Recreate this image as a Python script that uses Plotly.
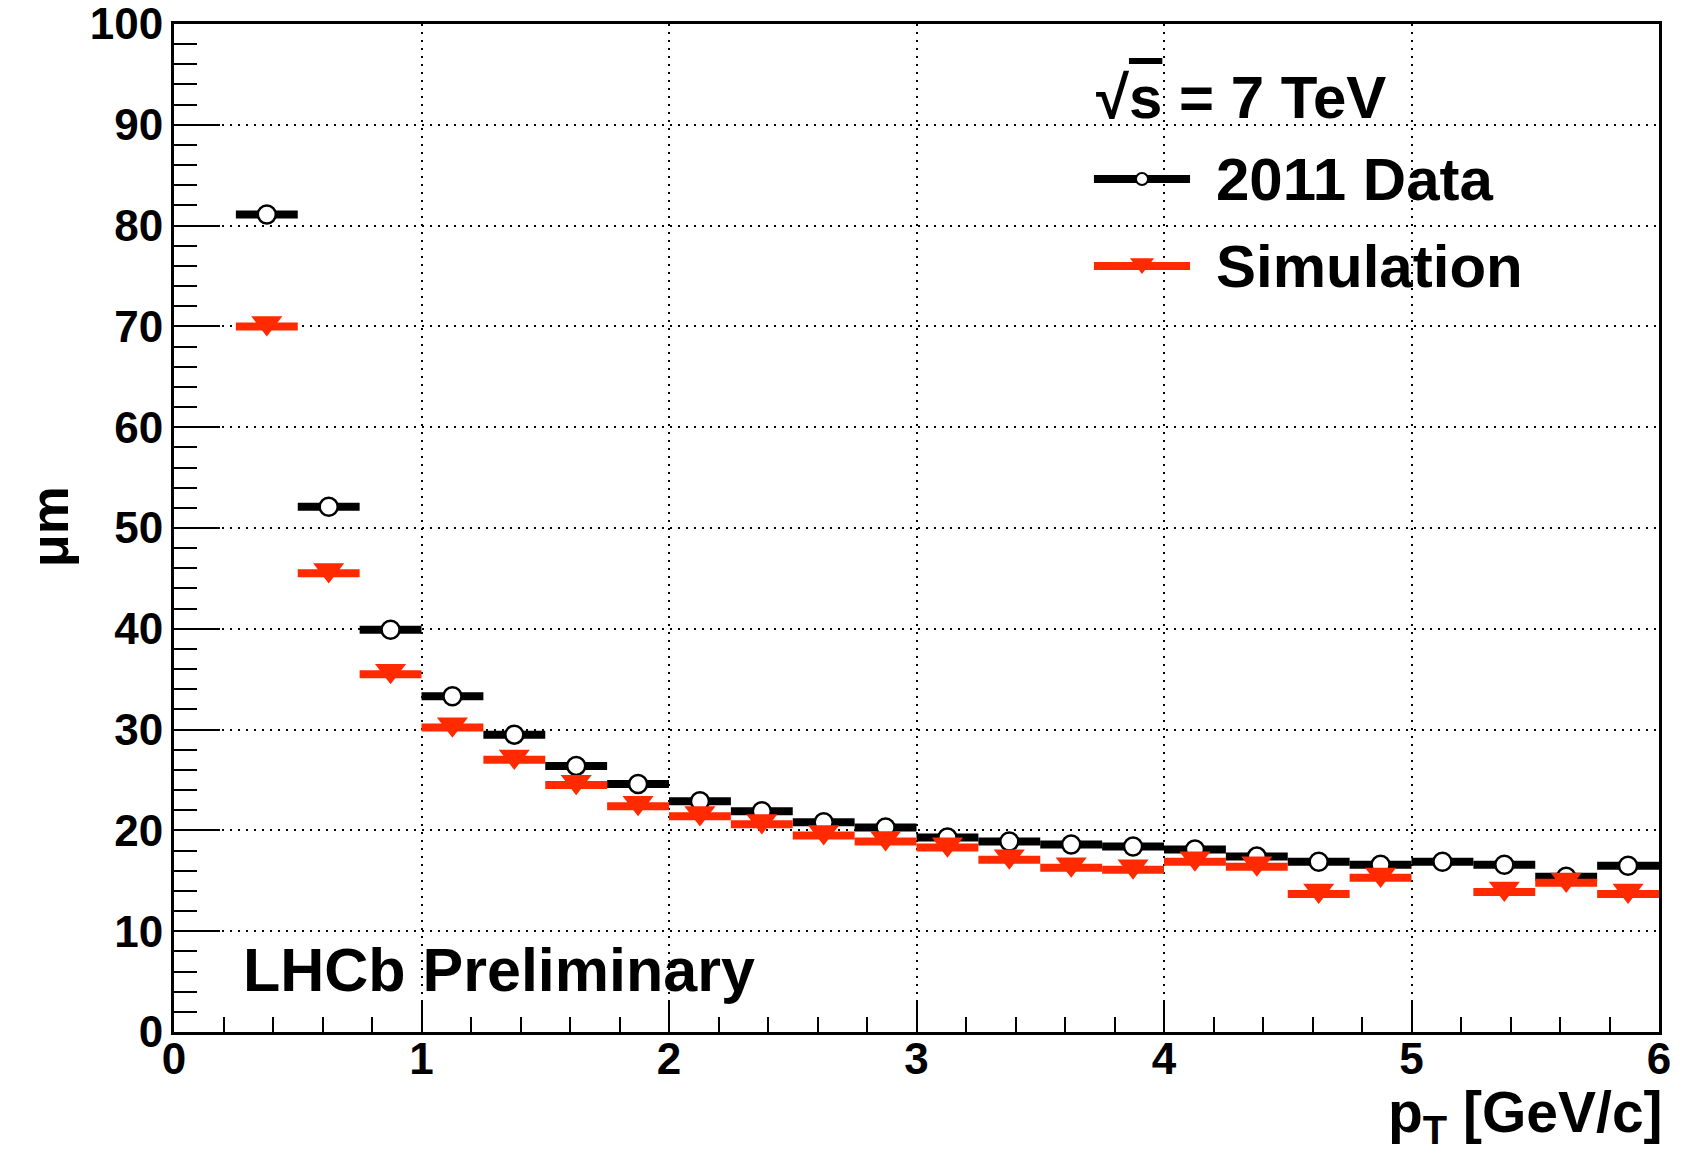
import plotly.graph_objects as go

# ---- data ----
bin_centers = [0.375, 0.625, 0.875, 1.125, 1.375, 1.625, 1.875, 2.125, 2.375, 2.625,
               2.875, 3.125, 3.375, 3.625, 3.875, 4.125, 4.375, 4.625, 4.875, 5.125,
               5.375, 5.625, 5.875]
bin_half_width = [0.125] * len(bin_centers)
data_2011 = [81.1, 52.1, 39.9, 33.3, 29.5, 26.4, 24.6, 22.9, 21.9, 20.8,
             20.3, 19.3, 18.9, 18.6, 18.4, 18.1, 17.4, 16.9, 16.6, 16.9,
             16.6, 15.4, 16.5]
simulation = [70.0, 45.5, 35.5, 30.2, 27.0, 24.5, 22.4, 21.4, 20.6, 19.5,
              18.9, 18.3, 17.1, 16.3, 16.1, 16.9, 16.4, 13.7, 15.3, None,
              13.9, 14.8, 13.7]
x_ticks = [0, 1, 2, 3, 4, 5, 6]
y_ticks = [0, 10, 20, 30, 40, 50, 60, 70, 80, 90, 100]

RED = "#FF2A00"
FONT = "Liberation Sans, Arial, sans-serif"

TRI_SIZE = 27
LEG_TRI_SIZE = 21

fig = go.Figure()

fig.add_trace(go.Scatter(
    x=bin_centers, y=data_2011, mode="markers", name="2011 Data",
    error_x=dict(type="data", array=bin_half_width, thickness=8, width=0, color="black"),
    marker=dict(symbol="circle", size=18, color="white", line=dict(color="black", width=2.5)),
    showlegend=False, cliponaxis=False,
))
fig.add_trace(go.Scatter(
    x=bin_centers, y=simulation, mode="markers", name="Simulation",
    error_x=dict(type="data", array=bin_half_width, thickness=8, width=0, color=RED),
    marker=dict(symbol="triangle-up", angle=180, standoff=TRI_SIZE / 8,
                size=TRI_SIZE, color=RED, line=dict(width=0)),
    showlegend=False, cliponaxis=False,
))

# ---- manual legend (ROOT style) on an overlay 0..1 axis pair ----
leg_x = [0.6195, 0.6842]
leg_xc = [(leg_x[0] + leg_x[1]) / 2]
leg_y_data = 0.8462
leg_y_sim = 0.7599
fig.add_trace(go.Scatter(
    x=leg_x, y=[leg_y_data, leg_y_data], xaxis="x2", yaxis="y2", mode="lines",
    line=dict(color="black", width=8), showlegend=False, hoverinfo="skip", cliponaxis=False,
))
fig.add_trace(go.Scatter(
    x=leg_xc, y=[leg_y_data], xaxis="x2", yaxis="y2", mode="markers",
    marker=dict(symbol="circle", size=12, color="white", line=dict(color="black", width=2)),
    showlegend=False, hoverinfo="skip", cliponaxis=False,
))
fig.add_trace(go.Scatter(
    x=leg_x, y=[leg_y_sim, leg_y_sim], xaxis="x2", yaxis="y2", mode="lines",
    line=dict(color=RED, width=8), showlegend=False, hoverinfo="skip", cliponaxis=False,
))
fig.add_trace(go.Scatter(
    x=leg_xc, y=[leg_y_sim], xaxis="x2", yaxis="y2", mode="markers",
    marker=dict(symbol="triangle-up", angle=180, standoff=LEG_TRI_SIZE / 8,
                size=LEG_TRI_SIZE, color=RED, line=dict(width=0)),
    showlegend=False, hoverinfo="skip", cliponaxis=False,
))

ann_font = dict(family=FONT, size=60, color="black", weight="bold")
fig.add_annotation(x=0.7003, y=leg_y_data, xref="paper", yref="paper", text="2011 Data",
                   showarrow=False, xanchor="left", yanchor="middle", font=ann_font)
fig.add_annotation(x=0.7003, y=leg_y_sim, xref="paper", yref="paper", text="Simulation",
                   showarrow=False, xanchor="left", yanchor="middle", font=ann_font)
fig.add_annotation(x=0.6195, y=0.9266, xref="paper", yref="paper",
                   text="√<span style='text-decoration:overline'>s</span> = 7 TeV",
                   showarrow=False, xanchor="left", yanchor="middle", font=ann_font)
fig.add_annotation(x=0.0451, y=0.0615, xref="paper", yref="paper", text="LHCb Preliminary",
                   showarrow=False, xanchor="left", yanchor="middle",
                   font=dict(family=FONT, size=61, color="black", weight="bold"))
# axis titles
fig.add_annotation(x=1.004, y=-0.083, xref="paper", yref="paper",
                   text="p<sub>T</sub> [GeV/c]", showarrow=False, xanchor="right",
                   yanchor="middle", font=dict(family=FONT, size=57, color="black", weight="bold"))
fig.add_annotation(x=-0.084, y=0.501, xref="paper", yref="paper", text="μm",
                   showarrow=False, textangle=-90, xanchor="center", yanchor="middle",
                   font=dict(family=FONT, size=54, color="black", weight="bold"))

tick_font = dict(family=FONT, size=44, color="black", weight="bold")
grid_common = dict(showgrid=True, gridcolor="black", gridwidth=2, griddash="2px,6px",
                   zeroline=False, showline=True, linecolor="black", linewidth=3,
                   mirror=True, ticks="inside", tickcolor="black", tickwidth=2,
                   tickfont=tick_font, ticklabeloverflow="allow", automargin=False)

fig.update_layout(
    width=1704, height=1163,
    margin=dict(l=174, r=45, t=24, b=131),
    paper_bgcolor="white", plot_bgcolor="white",
    showlegend=False,
    xaxis=dict(range=[0, 6], tickvals=x_ticks, ticklen=31, ticklabelstandoff=-14,
               minor=dict(dtick=0.2, ticklen=15, ticks="inside", tickcolor="black",
                          tickwidth=2, showgrid=False),
               **grid_common),
    yaxis=dict(range=[0, 100], tickvals=y_ticks, ticklen=46, ticklabelstandoff=-1,
               minor=dict(dtick=2, ticklen=23, ticks="inside", tickcolor="black",
                          tickwidth=2, showgrid=False),
               **grid_common),
    xaxis2=dict(range=[0, 1], overlaying="x", visible=False, fixedrange=True, automargin=False),
    yaxis2=dict(range=[0, 1], overlaying="y", visible=False, fixedrange=True, automargin=False),
)

fig.write_html("out.html")
